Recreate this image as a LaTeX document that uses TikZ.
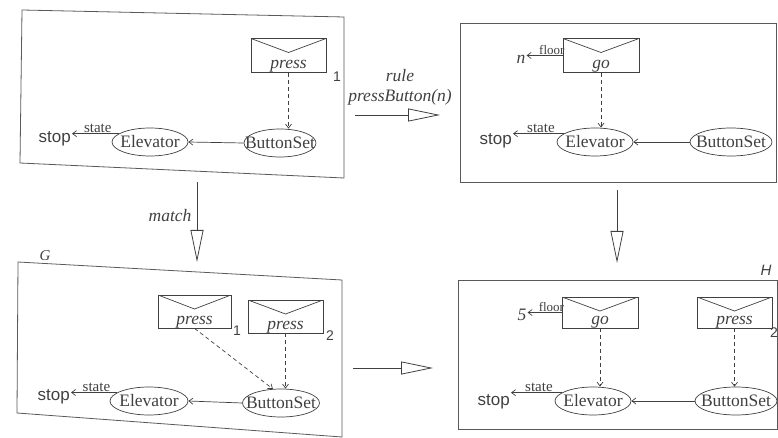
\documentclass[tikz,border=0pt]{standalone}
\usepackage{fontspec}
\setmainfont{Liberation Serif}
\setsansfont{Liberation Sans}
\usetikzlibrary{arrows.meta,shapes.geometric}
\definecolor{ink}{gray}{0.25}
\definecolor{frame}{gray}{0.35}
\begin{document}
\begin{tikzpicture}[x=1pt,y=-1pt,
  every node/.style={text=ink},
  bigit/.style={font=\fontsize{17.5}{20}\selectfont\itshape},
  sans/.style={font=\fontsize{17}{19}\selectfont\sffamily},
  small/.style={font=\fontsize{15}{17}\selectfont, inner sep=1pt},
  tiny/.style={font=\fontsize{13}{15}\selectfont, inner sep=1pt},
  idx/.style={font=\fontsize{14}{16}\selectfont\sffamily, inner sep=0pt},
  ell/.style={ellipse, draw=ink, line width=0.7pt, inner xsep=-20pt, inner ysep=0pt,
              minimum height=28pt, font=\fontsize{17.5}{20}\selectfont},
  env/.style={draw=ink, line width=0.7pt, rectangle, minimum width=75pt, minimum height=34pt,
              inner sep=1.5pt, text height=28pt, text depth=2pt,
              font=\fontsize{17.5}{20}\selectfont\itshape,
              path picture={\draw[ink, line width=0.7pt] (path picture bounding box.north west)
                 -- ([yshift=-14pt]path picture bounding box.north)
                 -- (path picture bounding box.north east);}},
  sa/.style={draw=ink, line width=0.7pt, -{Straight Barb[length=4pt,width=6pt]}},
  da/.style={sa, dashed, dash pattern=on 4pt off 3pt},
  ba/.style={draw=ink, line width=0.8pt, -{Triangle[open,length=32pt,width=13pt]}},
  panel/.style={draw=frame, line width=0.8pt}
]
\useasboundingbox (0,0) rectangle (778,438);

% ---------- panels ----------
\draw[panel] (22,10) -- (344,17) -- (344,178) -- (20,163) -- cycle;
\draw[panel] (460,23) -- (776,23) -- (776,182) -- (460,182) -- cycle;
\draw[panel] (18,262) -- (342,280) -- (342,437) -- (17,413) -- cycle;
\draw[panel] (458,280) -- (777,280) -- (777,429) -- (458,429) -- cycle;

% ---------- top left: rule LHS ----------
\node[env] (p1) at (288.5,55.5) {press};
\node[idx] (i1) at (337,77) {1};
\node[ell, minimum width=76pt] (e1) at (150,142) {Elevator};
\node[ell, minimum width=72pt] (b1) at (280,143) {ButtonSet};
\node[sans, anchor=base east, inner sep=1pt] (s1) at (72,143) {stop};
\draw[sa] (e1.165) -- node[small, above, pos=0.45] {state} (e1.165 -| s1.east);
\draw[sa] (b1.west) -- (e1.east);
\draw[da] (p1.south) -- (p1.south |- b1.north);

% ---------- top right: rule RHS ----------
\node[env, minimum width=76pt] (p2) at (601,55.5) {go};
\node[bigit, inner sep=1pt] (n2) at (521,59) {n};
\draw[sa] (p2.west) -- node[tiny, above, pos=0.3] {floor} (p2.west -| n2.east);
\node[ell, minimum width=76pt] (e2) at (595,142) {Elevator};
\node[ell, minimum width=82pt] (b2) at (731,142) {ButtonSet};
\node[sans, anchor=base east, inner sep=1pt] (s2) at (513,145) {stop};
\draw[sa] (e2.165) -- node[small, above, pos=0.45] {state} (e2.165 -| s2.east);
\draw[sa] (b2.west) -- (e2.east);
\draw[da] (p2.south) -- (p2.south |- e2.north);

% ---------- bottom left: G ----------
\node[font=\fontsize{15}{17}\selectfont\itshape, inner sep=1pt] (gG) at (45,256) {G};
\node[env, minimum width=73pt, minimum height=33pt] (g1) at (194.5,311.5) {press};
\node[idx] (gi1) at (237,331) {1};
\node[env, minimum width=75pt, minimum height=33pt] (g2) at (285.5,316.5) {press};
\node[idx] (gi2) at (330,336) {2};
\node[ell, minimum width=78pt] (eG) at (149,401) {Elevator};
\node[ell, minimum width=77pt] (bG) at (281,403) {ButtonSet};
\node[sans, anchor=base east, inner sep=1pt] (sG) at (71,400) {stop};
\draw[sa] (eG.165) -- node[small, above, pos=0.45] {state} (eG.165 -| sG.east);
\draw[sa] (bG.west) -- (eG.east);
\draw[da] (g1.south) -- (bG.120);
\draw[da] (g2.south) -- (g2.south |- bG.north);

% ---------- bottom right: H ----------
\node[font=\fontsize{15}{17}\selectfont\sffamily\itshape, inner sep=1pt] (hH) at (766,270) {H};
\node[env, minimum width=76pt, minimum height=31pt, text height=26pt] (h1) at (600,312.5) {go};
\node[env, minimum width=75pt, minimum height=31pt, text height=26pt] (h2) at (734.5,312.5) {press};
\node[idx, anchor=east] (hi2) at (778,333) {2};
\node[bigit, inner sep=1pt] (n5) at (522,315) {5};
\draw[sa] (h1.west) -- node[tiny, above, pos=0.3] {floor} (h1.west -| n5.east);
\node[ell, minimum width=76pt] (eH) at (593,401) {Elevator};
\node[ell, minimum width=82pt] (bH) at (736,401) {ButtonSet};
\node[sans, anchor=base east, inner sep=1pt] (sH) at (511,405) {stop};
\draw[sa] (eH.165) -- node[small, above, pos=0.45] {state} (eH.165 -| sH.east);
\draw[sa] (bH.west) -- (eH.east);
\draw[da] (h1.south) -- (h1.south |- eH.north);
\draw[da] (h2.south) -- (h2.south |- bH.north);

% ---------- big arrows ----------
\coordinate (ra) at (355,115);
\coordinate (rb) at (440,115);
\draw[ba] (ra) -- (rb);
\node[bigit] (rl1) at (400,76) {rule};
\node[bigit] (rl2) at (400,97) {pressButton(n)};

\coordinate (ma) at (197,182);
\coordinate (mb) at (197,262);
\draw[ba] (ma) -- (mb);
\node[bigit] (ml) at (170,216) {match};

\coordinate (va) at (617,190);
\coordinate (vb) at (617,263);
\draw[ba] (va) -- (vb);

\coordinate (ha) at (353,368);
\coordinate (hb) at (433,368);
\draw[ba] (ha) -- (hb);
\end{tikzpicture}
\end{document}
